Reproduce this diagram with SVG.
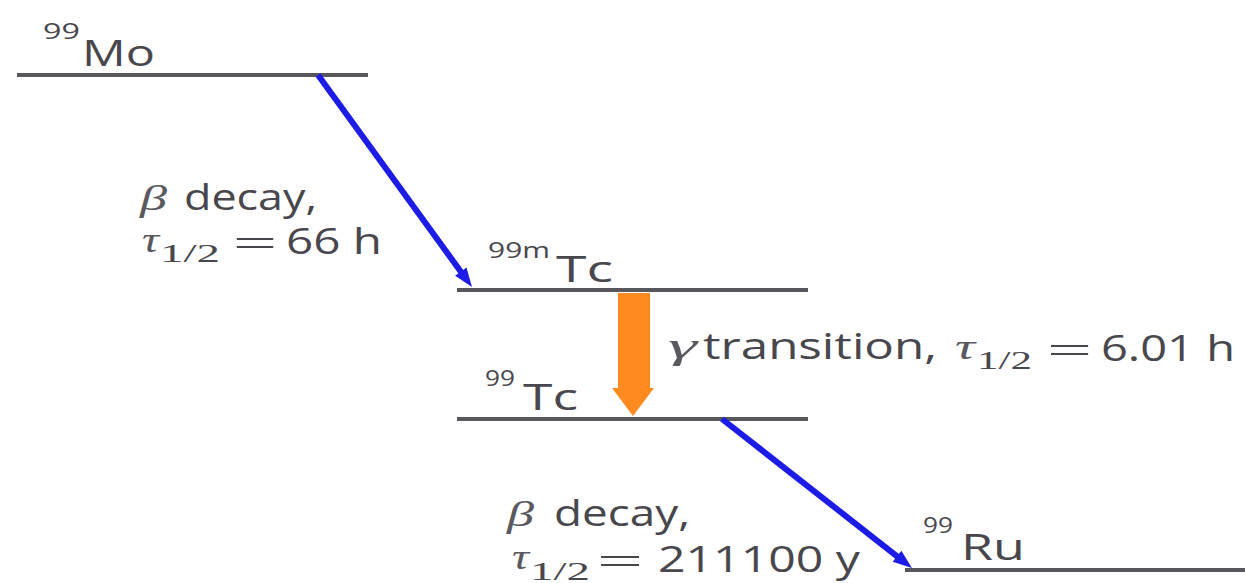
<svg xmlns="http://www.w3.org/2000/svg" width="1245" height="583" viewBox="0 0 1245 583">
<style>
.lvl{stroke:#58585c;stroke-width:4;fill:none}
.t{font-family:"Open Sans","DejaVu Sans",sans-serif;font-size:36px;font-weight:500;fill:#48474d}
.sup{font-family:"Open Sans","DejaVu Sans",sans-serif;font-size:22px;font-weight:500;fill:#48474d}
.g{font-family:"Liberation Serif","DejaVu Serif",serif;font-style:italic;font-size:36px;fill:#5a595f}
.sub{font-family:"Liberation Serif","DejaVu Serif",serif;font-size:25px;fill:#48474d}
.eq{font-family:"Liberation Serif","DejaVu Serif",serif;font-size:38px;fill:#48474d}
.beta{stroke:#1c1ce6;stroke-width:6;fill:none;marker-end:url(#ah)}
</style>
<defs>
<marker id="ah" markerUnits="userSpaceOnUse" viewBox="-10 -8 22 16" refX="0" refY="0" markerWidth="22" markerHeight="16" orient="auto">
<path d="M10,0 L-9,-7 L-9,7 Z" fill="#1c1ce6"/>
</marker>
</defs>
<g id="mo99">
<line class="lvl" x1="17" y1="75" x2="368" y2="75"/>
<text class="sup" x="43" y="39" textLength="37" lengthAdjust="spacingAndGlyphs">99</text>
<text class="t" x="82" y="66" textLength="73" lengthAdjust="spacingAndGlyphs">Mo</text>
</g>
<g id="tc99m">
<line class="lvl" x1="457" y1="290" x2="808" y2="290"/>
<text class="sup" x="488" y="258" textLength="62" lengthAdjust="spacingAndGlyphs">99m</text>
<text class="t" x="556" y="282" textLength="57" lengthAdjust="spacingAndGlyphs">Tc</text>
</g>
<g id="tc99">
<line class="lvl" x1="457" y1="419" x2="808" y2="419"/>
<text class="sup" x="485" y="386" textLength="30" lengthAdjust="spacingAndGlyphs">99</text>
<text class="t" x="523" y="410" textLength="55" lengthAdjust="spacingAndGlyphs">Tc</text>
</g>
<g id="ru99">
<line class="lvl" x1="905" y1="570" x2="1245" y2="570"/>
<text class="sup" x="923" y="533" textLength="30" lengthAdjust="spacingAndGlyphs">99</text>
<text class="t" x="961" y="560" textLength="64" lengthAdjust="spacingAndGlyphs">Ru</text>
</g>
<g id="connectors">
<line class="beta" x1="318" y1="75" x2="466.1" y2="278.9"/>
<line class="beta" x1="722" y1="419" x2="904.1" y2="561.8"/>
<g id="gamma-arrow" fill="#ff8a1f">
<rect x="618" y="293" width="32" height="96"/>
<polygon points="612,388 654,388 633,416"/>
</g>
</g>
<g id="label-beta1">
<text class="g" x="140" y="210" textLength="27" lengthAdjust="spacingAndGlyphs">β</text>
<text class="t" x="184" y="210" textLength="133" lengthAdjust="spacingAndGlyphs">decay,</text>
<text class="g" x="142" y="252" textLength="17" lengthAdjust="spacingAndGlyphs">τ</text>
<text class="sub" x="160" y="262" textLength="60" lengthAdjust="spacingAndGlyphs">1/2</text>
<text class="eq" x="233" y="256" textLength="44" lengthAdjust="spacingAndGlyphs">=</text>
<text class="t" x="286" y="254" textLength="96" lengthAdjust="spacingAndGlyphs">66 h</text>
</g>
<g id="label-gamma">
<text class="g" x="668" y="358" textLength="29" lengthAdjust="spacingAndGlyphs">γ</text>
<text class="t" x="703" y="359" textLength="234" lengthAdjust="spacingAndGlyphs">transition,</text>
<text class="g" x="955" y="359" textLength="20" lengthAdjust="spacingAndGlyphs">τ</text>
<text class="sub" x="977" y="369" textLength="55" lengthAdjust="spacingAndGlyphs">1/2</text>
<text class="eq" x="1047" y="363" textLength="45" lengthAdjust="spacingAndGlyphs">=</text>
<text class="t" x="1101" y="361" textLength="134" lengthAdjust="spacingAndGlyphs">6.01 h</text>
</g>
<g id="label-beta2">
<text class="g" x="507" y="526" textLength="27" lengthAdjust="spacingAndGlyphs">β</text>
<text class="t" x="554" y="526" textLength="136" lengthAdjust="spacingAndGlyphs">decay,</text>
<text class="g" x="512" y="569" textLength="17" lengthAdjust="spacingAndGlyphs">τ</text>
<text class="sub" x="530" y="580" textLength="60" lengthAdjust="spacingAndGlyphs">1/2</text>
<text class="eq" x="597" y="574" textLength="46" lengthAdjust="spacingAndGlyphs">=</text>
<text class="t" x="658" y="572" textLength="202" lengthAdjust="spacingAndGlyphs">211100 y</text>
</g>
</svg>
